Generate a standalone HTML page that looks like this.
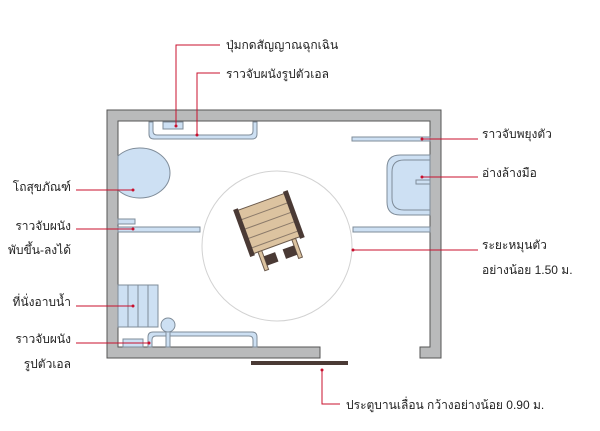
<!DOCTYPE html>
<html><head><meta charset="utf-8"><style>
body{margin:0;background:#fff}
svg text{font-family:"Liberation Sans","Noto Sans CJK SC",sans-serif;font-size:12px;fill:#222}
</style></head><body>
<svg width="600" height="426" viewBox="0 0 600 426" xmlns="http://www.w3.org/2000/svg">
<g fill="#b9babb" stroke="#555" stroke-width="1">
<path d="M107,110 H441 V358 H420 V347 H430 V121 H118 V347 H320 V358 H107 Z"/>
</g>
<rect x="251" y="361" width="97" height="4" fill="#4a3a35"/>
<circle cx="277" cy="246" r="75" fill="none" stroke="#d2d2d2" stroke-width="1"/>
<g fill="#cde0f3" stroke="#7f8c99" stroke-width="1">
<path d="M149,122 V134 Q149,139 154,139 H252 Q257,139 257,134 V122 H253 V131 Q253,135 249,135 H157 Q153,135 153,131 V122 Z"/>
<rect x="163" y="122" width="20" height="7"/>
<path d="M118,156 A30,25 0 1 1 118,190 Z" />
<rect x="352" y="137" width="78" height="4"/>
<path d="M430,155 H400 Q387,155 387,168 V202 Q387,215 400,215 H430 Z"/>
<path d="M430,160 H404 Q392,160 392,172 V198 Q392,210 404,210 H430" fill="none"/>
<rect x="416" y="180" width="14" height="4"/>
<rect x="353" y="227" width="77" height="5"/>
<rect x="118" y="219" width="17" height="5"/>
<rect x="118" y="227" width="82" height="5"/>
<rect x="118" y="285" width="40" height="42"/>
<path d="M148,347 V337 Q148,332 153,332 H252 Q257,332 257,337 V347 H253 V340 Q253,336 249,336 H156 Q152,336 152,340 V347 Z"/>
<rect x="166" y="330" width="4" height="17"/>
<circle cx="168" cy="325" r="7"/>
<rect x="123" y="339" width="20" height="8"/>
</g>
<g stroke="#7f8c99" stroke-width="1">
<line x1="128" y1="285" x2="128" y2="327"/><line x1="138" y1="285" x2="138" y2="327"/><line x1="148" y1="285" x2="148" y2="327"/>
</g>
<g transform="translate(272,232) rotate(-20)">
<rect x="-25" y="-32" width="50" height="46" fill="#dcc3a0" stroke="#6b5a4c"/>
<line x1="-25" y1="-22" x2="25" y2="-22" stroke="#8b7a6a"/>
<line x1="-25" y1="-12" x2="25" y2="-12" stroke="#8b7a6a"/>
<line x1="-25" y1="-2" x2="25" y2="-2" stroke="#8b7a6a"/>
<line x1="-25" y1="8" x2="25" y2="8" stroke="#8b7a6a"/>
<rect x="-29" y="-34" width="5" height="50" fill="#4a3a35"/>
<rect x="24" y="-34" width="5" height="50" fill="#4a3a35"/>
<rect x="-20" y="14" width="4" height="20" fill="#dcc3a0" stroke="#6b5a4c"/>
<rect x="16" y="14" width="4" height="20" fill="#dcc3a0" stroke="#6b5a4c"/>
<rect x="-16" y="20" width="12" height="10" fill="#4a3a35"/>
<rect x="4" y="20" width="12" height="10" fill="#4a3a35"/>
</g>
<g stroke="#c8102e" stroke-width="1" fill="none">
<path d="M220,45 H176 V126"/>
<path d="M220,73 H197 V135"/>
<path d="M478,139 H422"/>
<path d="M478,177 H422"/>
<path d="M478,250 H353"/>
<path d="M76,190 H133"/>
<path d="M76,229 H133"/>
<path d="M76,306 H133"/>
<path d="M76,343 H149"/>
<path d="M322,370 V404 H340"/>
</g>
<g fill="#c8102e">
<circle cx="176" cy="126" r="1.5"/><circle cx="197" cy="135" r="1.5"/><circle cx="422" cy="139" r="1.5"/>
<circle cx="422" cy="177" r="1.5"/><circle cx="353" cy="250" r="1.5"/><circle cx="133" cy="190" r="1.5"/>
<circle cx="133" cy="229" r="1.5"/><circle cx="133" cy="306" r="1.5"/><circle cx="149" cy="343" r="1.5"/>
<circle cx="322" cy="370" r="1.5"/>
</g>
<text x="226" y="49">ปุ่มกดสัญญาณฉุกเฉิน</text>
<text x="226" y="78">ราวจับผนังรูปตัวเอล</text>
<text x="482" y="138">ราวจับพยุงตัว</text>
<text x="482" y="177">อ่างล้างมือ</text>
<text x="482" y="249">ระยะหมุนตัว</text>
<text x="482" y="274">อย่างน้อย 1.50 ม.</text>
<text x="71" y="191" text-anchor="end">โถสุขภัณฑ์</text>
<text x="71" y="230" text-anchor="end">ราวจับผนัง</text>
<text x="71" y="254" text-anchor="end">พับขึ้น-ลงได้</text>
<text x="71" y="306" text-anchor="end">ที่นั่งอาบน้ำ</text>
<text x="71" y="343" text-anchor="end">ราวจับผนัง</text>
<text x="71" y="368" text-anchor="end">รูปตัวเอล</text>
<text x="346" y="409">ประตูบานเลื่อน กว้างอย่างน้อย 0.90 ม.</text>
</svg>
</body></html>
